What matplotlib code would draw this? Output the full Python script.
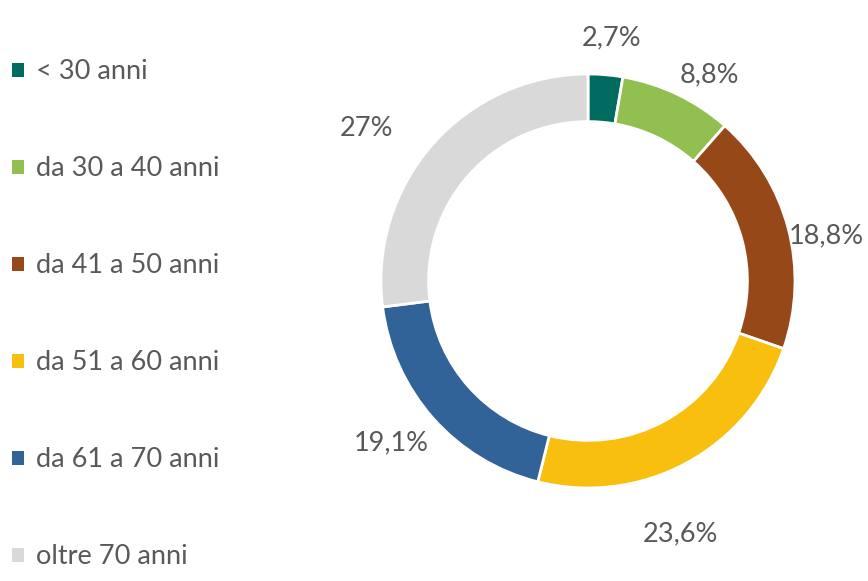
import numpy as np
import matplotlib
matplotlib.use("Agg")
import matplotlib.pyplot as plt
from matplotlib.patches import Patch

# data
categories = ["< 30 anni", "da 30 a 40 anni", "da 41 a 50 anni",
              "da 51 a 60 anni", "da 61 a 70 anni", "oltre 70 anni"]
values = [2.7, 8.8, 18.8, 23.6, 19.1, 27.0]
labels = ["2,7%", "8,8%", "18,8%", "23,6%", "19,1%", "27%"]
colors = ["#006B5F", "#92C050", "#974818", "#F9BF0F", "#316399", "#D9D9D9"]

# label placement tweaks (angle shift in degrees, radius)
lab_dang = [-0.7, -5, -4.1, -8.4, -2.2, 6.8]
lab_r = [1.18, 1.155, 1.17, 1.30, 1.23, 1.30]

plt.rcParams['font.family'] = ['Lato', 'DejaVu Sans']
txt_col = "#595959"

fig = plt.figure(figsize=(8.68, 5.81), dpi=100)
# donut centre ~ (588,281) px, radius ~207 px
L = 1.3
w = 207 * 2 * L
ax = fig.add_axes([(588 - w / 2) / 868, (581 - 281 - w / 2) / 581, w / 868, w / 581])
wedges, _ = ax.pie(values, colors=colors, startangle=90, counterclock=False,
                   radius=1.0, wedgeprops=dict(width=0.23, edgecolor='white', linewidth=2))
ax.set_xlim(-L, L)
ax.set_ylim(-L, L)
ax.set_aspect('equal')
ax.axis('off')

# percentage labels outside the ring
for wdg, lab, da, r in zip(wedges, labels, lab_dang, lab_r):
    ang = np.deg2rad((wdg.theta1 + wdg.theta2) / 2 + da)
    ax.text(r * np.cos(ang), r * np.sin(ang), lab, ha='center', va='center',
            fontsize=19.5, color=txt_col)

handles = [Patch(facecolor=c, edgecolor='none') for c in colors]
fig.legend(handles, categories, loc='upper left', bbox_to_anchor=(0.005, 0.912),
           frameon=False, fontsize=19.5, labelcolor=txt_col, handlelength=0.42,
           handleheight=0.42, handletextpad=0.45, labelspacing=2.66,
           borderpad=0.3, borderaxespad=0.0)

fig.savefig("out.png", dpi=100)
